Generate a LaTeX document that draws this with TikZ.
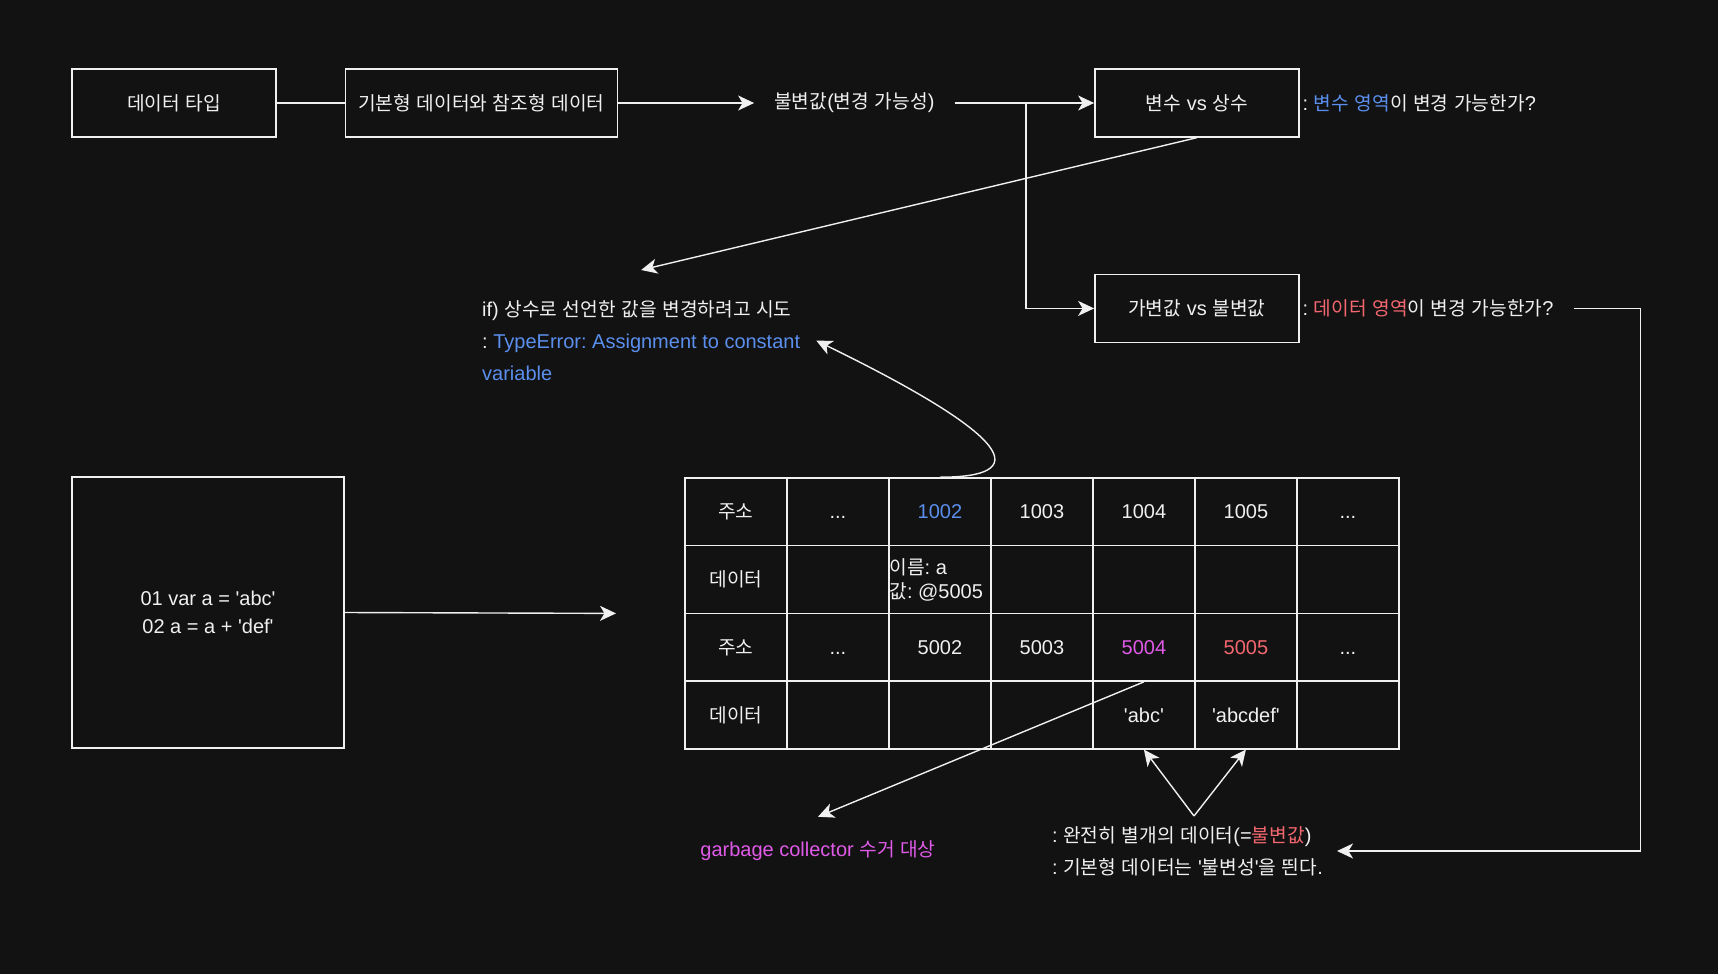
\documentclass[tikz,border=0pt]{standalone}
\usepackage{fontspec}
\setmainfont{Liberation Sans}[Ligatures=TeXOff]
\newfontfamily\krfont{Noto Sans CJK KR}[Scale=0.96]
% hangul syllables are set in the korean font
\XeTeXinterchartokenstate=1
\newXeTeXintercharclass\hangulclass
\newcount\hangulcode
\hangulcode="AC00
\loop
  \XeTeXcharclass\hangulcode=\hangulclass
  \advance\hangulcode by 1
\ifnum\hangulcode<"D7A4 \repeat
\XeTeXinterchartoks 0 \hangulclass = {\krfont}
\XeTeXinterchartoks 4095 \hangulclass = {\krfont}
\XeTeXinterchartoks \hangulclass 0 = {\rmfamily}
\XeTeXinterchartoks \hangulclass 4095 = {\rmfamily}
\frenchspacing
\usepackage{xcolor}
\definecolor{dgBack}{HTML}{121212}
\definecolor{dgLine}{HTML}{F0F0F0}
\definecolor{dgBlue}{HTML}{5B8FEE}
\definecolor{dgRed}{HTML}{F4676F}
\definecolor{dgPink}{HTML}{E05AE8}
\usetikzlibrary{arrows.meta, positioning, calc, matrix}

\begin{document}
\begin{tikzpicture}[
        x=1pt, y=-1pt,
        every node/.style={text=dgLine, font=\fontsize{20}{24}\selectfont},
        box/.style={rectangle, draw=dgLine, line width=1.4pt, minimum height=68pt, minimum width=204pt, align=center, inner sep=0pt},
        widebox/.style={box, minimum width=272pt},
        txt/.style={inner sep=0pt, align=left},
        cell/.style={rectangle, draw=dgLine, line width=1.4pt, minimum width=102pt, minimum height=67.75pt, inner sep=0pt,
                     anchor=center, text height=18pt, text depth=3.6pt},
        arr/.style={-{Stealth[length=16pt, width=15pt, inset=4.5pt]}, line width=1.4pt, dgLine},
        plain/.style={line width=1.4pt, dgLine},
    ]
        \fill[dgBack] (0,0) rectangle (1718,974);
        \useasboundingbox (0,0) rectangle (1718,974);

        % Top row
        \node[box] (dtype) at (174,103) {데이터 타입};
        \node[widebox, right=68pt of dtype] (prim) {기본형 데이터와 참조형 데이터};
        \node[txt, inner xsep=20pt, right=136pt of prim] (immut) {불변값(변경 가능성)};
        \node[box, right=476pt of prim] (vc) {변수 vs 상수};
        \node[box, below=136pt of vc] (mv) {가변값 vs 불변값};
        \node[txt, inner xsep=3pt, right=0pt of vc] (vcq) {: {\color{dgBlue}변수 영역}이 변경 가능한가?};
        \node[txt, inner xsep=3pt, right=0pt of mv] (mvq) {: {\color{dgRed}데이터 영역}이 변경 가능한가?};

        % Error note
        \node[txt, anchor=north west, font=\fontsize{20}{32.4}\selectfont] (tryconst) at (482,300)
            {if) 상수로 선언한 값을 변경하려고 시도\\: {\color{dgBlue}TypeError: Assignment to constant}\\{\color{dgBlue}variable}};

        % Code
        \node[box, minimum width=272pt, minimum height=271pt, font=\fontsize{20}{28.5}\selectfont] (code) at (208,612.5)
            {01 var a = 'abc'\\02 a = a + 'def'};

        % Memory
        \matrix[matrix of nodes, nodes in empty cells, nodes={cell}, column sep=-1.4pt, row sep=-1.4pt,
                inner sep=0pt, anchor=north west] (mem) at (684,477) {
            주소 & ... & |[text=dgBlue]| 1002 & 1003 & 1004 & 1005 & ... \\
            데이터 & & & & & & \\
            주소 & ... & 5002 & 5003 & |[text=dgPink]| 5004 & |[text=dgRed]| 5005 & ... \\
            데이터 & & & & 'abc' & 'abcdef' & \\
        };
        \node[txt, anchor=west, xshift=1pt] (aval) at (mem-2-3.west) {이름: a\\값: @5005};

        % Bottom notes
        \node[txt, text=dgPink] (gc) at (818,851) {garbage collector 수거 대상};
        \node[txt, anchor=west, font=\fontsize{20}{31.8}\selectfont] (note) at (1052,851)
            {: 완전히 별개의 데이터(={\color{dgRed}불변값})\\: 기본형 데이터는 '불변성'을 띈다.};
        \coordinate (split) at (1194,816);

        % Arrows: top row
        \draw[plain] (dtype) -- (prim);
        \draw[arr] (prim) -- (immut);
        \draw[arr] (immut) -- (vc);
        \draw[arr] ([xshift=-68pt]vc.west) |- (mv.west);

        % Arrows: const error
        \draw[arr] (vc.south) -- ([yshift=30pt]tryconst.north);
        \draw[arr] (mem-1-3.north) .. controls +(91,0) and +(203,99) .. ([xshift=16pt]tryconst.east);

        % Arrows: code -> memory
        \draw[arr] (code.east) -- ([xshift=-68pt]mem.west);

        % Arrows: memory -> notes
        \draw[arr] (mem-3-5.south) -- ([yshift=24pt]gc.north);
        \draw[arr] (split) -- (mem-4-5.south);
        \draw[arr] (split) -- (mem-4-6.south);
        \draw[arr] ([xshift=17pt]mvq.east) -- ++(67,0) |- ([xshift=14pt]note.east);

    \end{tikzpicture}
\end{document}
